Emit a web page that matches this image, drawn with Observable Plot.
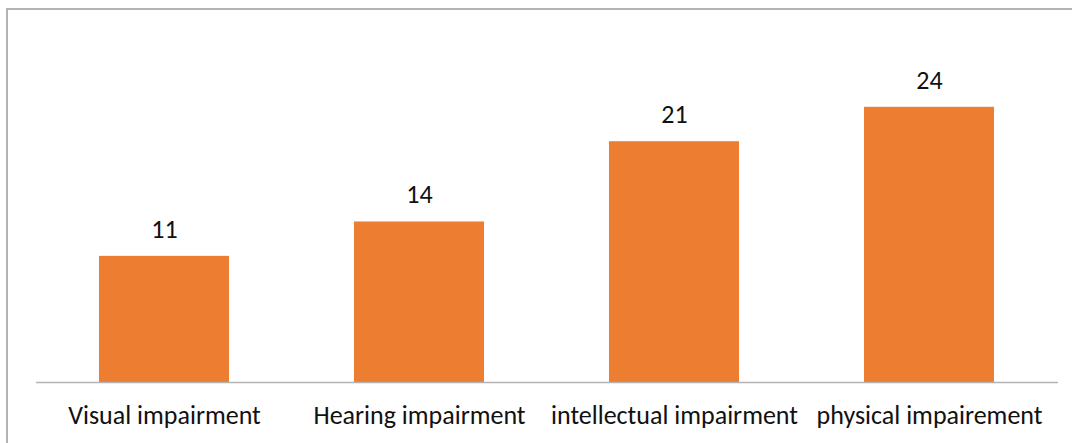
<!DOCTYPE html>
<html>
<head>
<meta charset="utf-8">
<script src="https://cdn.jsdelivr.net/npm/d3@7"></script>
<script src="https://cdn.jsdelivr.net/npm/@observablehq/plot@0.6"></script>
<style>
  html, body { margin: 0; padding: 0; background: #fff; }
  #wrap { position: relative; width: 1072px; height: 443px; overflow: hidden; }
  #frame { position: absolute; left: 6px; top: 8px; width: 1100px; height: 500px;
           border-left: 2px solid #b3b3b3; border-top: 2px solid #b3b3b3; box-sizing: border-box; }
  #chart { position: absolute; left: 0; top: 0; }
</style>
</head>
<body>
<div id="wrap"><div id="frame"></div><div id="chart"></div></div>
<script>
const categories = ["Visual impairment", "Hearing impairment", "intellectual impairment", "physical impairement"];
const values = [11, 14, 21, 24];
const yMax = 30;

const data = categories.map((c, i) => ({category: c, value: values[i]}));
const font = "Carlito, 'Open Sans', sans-serif";

const plot = Plot.plot({
  width: 1072,
  height: 443,
  marginLeft: 36,
  marginRight: 14,
  marginTop: 38,
  marginBottom: 61,
  style: {fontFamily: font, background: "transparent", overflow: "visible"},
  x: {domain: categories, paddingInner: 0.49, paddingOuter: 0.245, label: null},
  y: {domain: [0, yMax], axis: null},
  marks: [
    Plot.barY(data, {x: "category", y: "value", fill: "#ED7D31"}),
    Plot.ruleY([0], {stroke: "#b3b3b3", strokeWidth: 1.5}),
    Plot.text(data, {x: "category", y: "value", text: d => String(d.value), dy: -27,
      fontSize: 26, fill: "#111"}),
    Plot.axisX({tickSize: 0, tickPadding: 23, fontSize: 26, fill: "#111", label: null})
  ]
});
document.getElementById("chart").appendChild(plot);
</script>
</body>
</html>
